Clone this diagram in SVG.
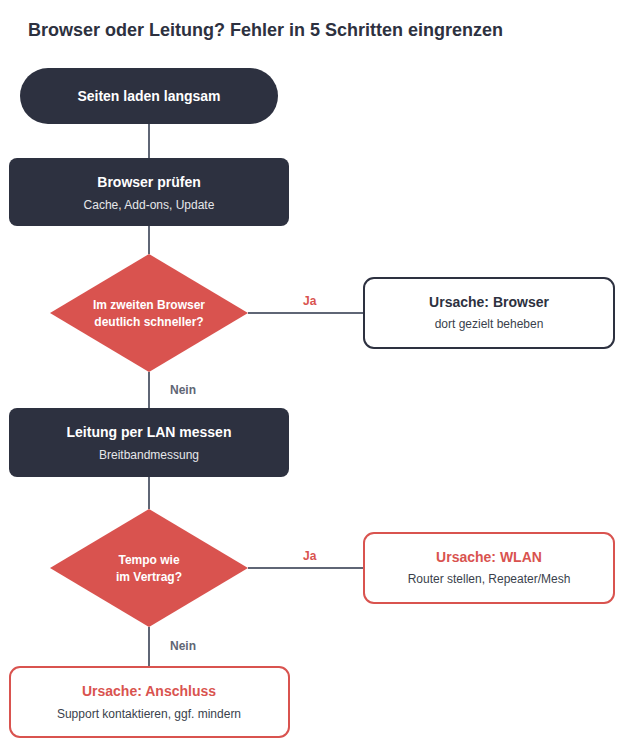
<svg xmlns="http://www.w3.org/2000/svg" width="621" height="750" viewBox="0 0 621 750">
<style>
text{font-family:"Liberation Sans",Arial,sans-serif}
.dark{fill:#2d3140}
.red{fill:#d9534f}
.tw{fill:#fff;font-weight:bold;font-size:14px;text-anchor:middle}
.sw{fill:#e6e7ea;font-size:12px;text-anchor:middle}
.dw{fill:#fff;font-weight:bold;font-size:12px;text-anchor:middle}
.td{fill:#2d3140;font-weight:bold;font-size:14px;text-anchor:middle}
.tr{fill:#d9534f;font-weight:bold;font-size:14px;text-anchor:middle}
.sd{fill:#3a3f4c;font-size:12px;text-anchor:middle}
.lab{font-weight:bold;font-size:12px}
.ln{stroke:#5f6675;stroke-width:2;fill:none}
</style>
<rect width="621" height="750" fill="#fff"/>
<text x="28" y="36" font-size="18" font-weight="bold" fill="#2d3140">Browser oder Leitung? Fehler in 5 Schritten eingrenzen</text>
<g id="connectors">
<path class="ln" d="M149 124V158M149 226V254M149 372V408M149 477V509M149 627V667M248 313H363M248 568H363"/>
<text class="lab" x="303" y="305" fill="#d9534f">Ja</text>
<text class="lab" x="303" y="560" fill="#d9534f">Ja</text>
<text class="lab" x="170" y="394" fill="#5f6675">Nein</text>
<text class="lab" x="170" y="650" fill="#5f6675">Nein</text>
</g>
<g id="start"><rect class="dark" x="20" y="68" width="258" height="56" rx="28"/><text class="tw" x="149" y="101">Seiten laden langsam</text></g>
<g id="browser"><rect class="dark" x="9" y="158" width="280" height="68" rx="8"/><text class="tw" x="149" y="187">Browser prüfen</text><text class="sw" x="149" y="209">Cache, Add-ons, Update</text></g>
<g id="d1"><polygon class="red" points="149,254 248,313 149,372 50,313"/><text class="dw" x="149" y="309">Im zweiten Browser</text><text class="dw" x="149" y="326">deutlich schneller?</text></g>
<g id="ub"><rect x="364" y="278" width="250" height="70" rx="10" fill="#fff" stroke="#2d3140" stroke-width="2"/><text class="td" x="489" y="307">Ursache: Browser</text><text class="sd" x="489" y="328">dort gezielt beheben</text></g>
<g id="lan"><rect class="dark" x="9" y="408" width="280" height="69" rx="8"/><text class="tw" x="149" y="437">Leitung per LAN messen</text><text class="sw" x="149" y="459">Breitbandmessung</text></g>
<g id="d2"><polygon class="red" points="149,509 248,568 149,627 50,568"/><text class="dw" x="149" y="564">Tempo wie</text><text class="dw" x="149" y="581">im Vertrag?</text></g>
<g id="uw"><rect x="364" y="533" width="250" height="70" rx="10" fill="#fff" stroke="#d9534f" stroke-width="2"/><text class="tr" x="489" y="562">Ursache: WLAN</text><text class="sd" x="489" y="583">Router stellen, Repeater/Mesh</text></g>
<g id="ua"><rect x="10" y="667" width="279" height="70" rx="10" fill="#fff" stroke="#d9534f" stroke-width="2"/><text class="tr" x="149" y="696">Ursache: Anschluss</text><text class="sd" x="149" y="718">Support kontaktieren, ggf. mindern</text></g>
</svg>
